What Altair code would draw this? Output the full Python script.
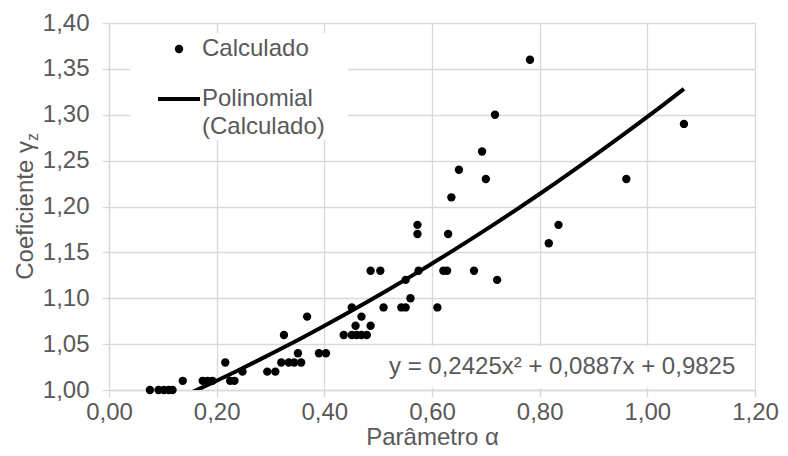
import altair as alt
import pandas as pd

# ---- data ----
alpha = [0.076, 0.092, 0.102, 0.111, 0.118,
         0.137, 0.174, 0.183, 0.192, 0.225, 0.233,
         0.216, 0.248, 0.294, 0.309,
         0.320, 0.334, 0.344, 0.357, 0.351, 0.325, 0.368,
         0.390, 0.403,
         0.436, 0.451, 0.460, 0.469, 0.479,
         0.458, 0.486, 0.469, 0.451,
         0.486, 0.504, 0.510, 0.543, 0.551, 0.551, 0.560, 0.575, 0.573, 0.573,
         0.610, 0.621, 0.628, 0.630, 0.636, 0.650, 0.693, 0.700, 0.678, 0.721,
         0.717, 0.782, 0.817, 0.835, 0.961, 1.068]
gamma = [1.00, 1.00, 1.00, 1.00, 1.00,
         1.01, 1.01, 1.01, 1.01, 1.01, 1.01,
         1.03, 1.02, 1.02, 1.02,
         1.03, 1.03, 1.03, 1.03, 1.04, 1.06, 1.08,
         1.04, 1.04,
         1.06, 1.06, 1.06, 1.06, 1.06,
         1.07, 1.07, 1.08, 1.09,
         1.13, 1.13, 1.09, 1.09, 1.09, 1.12, 1.10, 1.13, 1.17, 1.18,
         1.09, 1.13, 1.13, 1.17, 1.21, 1.24, 1.26, 1.23, 1.13, 1.12,
         1.30, 1.36, 1.16, 1.18, 1.23, 1.29]

x_ticks = [0.0, 0.2, 0.4, 0.6, 0.8, 1.0, 1.2]
y_ticks = [1.00, 1.05, 1.10, 1.15, 1.20, 1.25, 1.30, 1.35, 1.40]

x_title = "Parâmetro α"
y_title_main = "Coeficiente γ"
y_title_sub = "z"
legend_points = "Calculado"
legend_line_1 = "Polinomial"
legend_line_2 = "(Calculado)"
equation = "y = 0,2425x² + 0,0887x + 0,9825"

df = pd.DataFrame({"alpha": alpha, "gamma": gamma})

W, H = 646, 367
FONT = "Liberation Sans"
GRAY = "#595959"
GRID = "#d9d9d9"
FS = 24

label_expr = "replace(format(datum.value, '.2f'), '.', ',')"

xscale = alt.Scale(domain=[0, 1.2], nice=False, zero=False)
yscale = alt.Scale(domain=[1.0, 1.4], nice=False, zero=False)

xaxis = alt.Axis(values=x_ticks, labelExpr=label_expr, title=x_title,
                 grid=True, gridColor=GRID, gridWidth=1.3,
                 domainColor=GRID, domainWidth=1.3,
                 ticks=True, tickColor=GRID, tickWidth=1.3, tickSize=7,
                 labelFont=FONT, labelFontSize=FS, labelColor=GRAY, labelPadding=3,
                 labelFlush=False,
                 titleFont=FONT, titleFontSize=FS, titleColor=GRAY,
                 titleFontWeight="normal", titlePadding=1)
yaxis = alt.Axis(values=y_ticks, labelExpr=label_expr, title=None,
                 grid=True, gridColor=GRID, gridWidth=1.3,
                 domainColor=GRID, domainWidth=1.3,
                 ticks=True, tickColor=GRID, tickWidth=1.3, tickSize=7,
                 labelFont=FONT, labelFontSize=FS, labelColor=GRAY, labelPadding=13,
                 labelFlush=False)

base = alt.Chart(df)

points = base.mark_circle(size=70, color="black", opacity=1).encode(
    x=alt.X("alpha:Q", scale=xscale, axis=xaxis),
    y=alt.Y("gamma:Q", scale=yscale, axis=yaxis),
)

trend = base.transform_regression(
    "alpha", "gamma", method="poly", order=2
).mark_line(color="black", strokeWidth=4, clip=True).encode(
    x=alt.X("alpha:Q", scale=xscale),
    y=alt.Y("gamma:Q", scale=yscale),
)

one = pd.DataFrame({"k": [0]})
deco = alt.Chart(one)

# legend box
leg_bg = deco.mark_rect(color="white").encode(
    x=alt.value(21), x2=alt.value(239), y=alt.value(10), y2=alt.value(117))
leg_pt = deco.mark_circle(size=70, color="black", opacity=1).encode(
    x=alt.value(70), y=alt.value(26))
leg_t1 = deco.mark_text(align="left", baseline="middle", font=FONT, fontSize=FS,
                        color=GRAY, text=legend_points).encode(
    x=alt.value(93), y=alt.value(26))
leg_ln = deco.mark_rule(color="black", strokeWidth=4).encode(
    x=alt.value(49), x2=alt.value(91), y=alt.value(76))
leg_t2 = deco.mark_text(align="left", baseline="middle", font=FONT, fontSize=FS,
                        color=GRAY, text=legend_line_1).encode(
    x=alt.value(93), y=alt.value(76))
leg_t3 = deco.mark_text(align="left", baseline="middle", font=FONT, fontSize=FS,
                        color=GRAY, text=legend_line_2).encode(
    x=alt.value(93), y=alt.value(104))

# equation label
eq_bg = deco.mark_rect(color="white").encode(
    x=alt.value(274), x2=alt.value(W), y=alt.value(323), y2=alt.value(365))
eq_t = deco.mark_text(align="left", baseline="middle", font=FONT, fontSize=FS,
                      color=GRAY, text=equation).encode(
    x=alt.value(280), y=alt.value(344))

# y axis title with subscript
yt_main = deco.mark_text(align="right", baseline="alphabetic", angle=270, font=FONT,
                         fontSize=FS, color=GRAY, text=y_title_main).encode(
    x=alt.value(-76), y=alt.value(118))
yt_sub = deco.mark_text(align="left", baseline="alphabetic", angle=270, font=FONT,
                        fontSize=16, color=GRAY, text=y_title_sub, dy=5).encode(
    x=alt.value(-76), y=alt.value(118))

chart = alt.layer(
    points, trend, leg_bg, leg_pt, leg_t1, leg_ln, leg_t2, leg_t3,
    eq_bg, eq_t, yt_main, yt_sub
).properties(
    width=W, height=H,
    autosize=alt.AutoSizeParams(type="none"),
    padding={"left": 101, "top": 15, "right": 25, "bottom": 58},
    background="white",
).configure_view(stroke=None)

chart.save("out.html", embed_options={"renderer": "svg", "actions": False})
